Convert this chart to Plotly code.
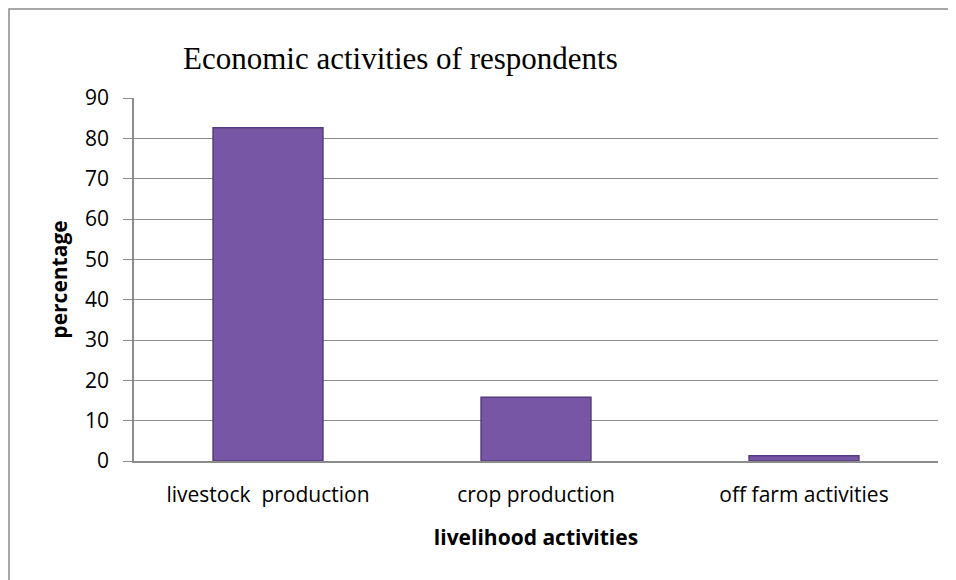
import plotly.graph_objects as go

categories = ["livestock  production", "crop production", "off farm activities"]
values = [82.6, 15.8, 1.3]
y_ticks = [0, 10, 20, 30, 40, 50, 60, 70, 80, 90]

fig = go.Figure()
fig.add_trace(go.Bar(
    x=categories, y=values,
    marker=dict(color="#7757a5", line=dict(color="#553a7c", width=1.5)),
    width=0.41,
))

# page body has an 8px margin; compensate
fig.update_layout(
    width=956, height=580,
    margin=dict(l=126, r=26, t=90, b=127),
    paper_bgcolor="white", plot_bgcolor="white",
    showlegend=False,
    title=dict(text="Economic activities of respondents",
               font=dict(family="Liberation Serif", size=31, color="black"),
               x=175/956, xanchor="left", y=1-50/580, yanchor="middle"),
    font=dict(family="Open Sans", size=21, color="black"),
)
fig.update_yaxes(
    range=[0, 90], tickvals=y_ticks, showgrid=True, gridcolor="#8c8c8c", gridwidth=1,
    showline=True, linecolor="#8c8c8c", linewidth=1.5,
    ticks="outside", ticklen=9, tickcolor="#8c8c8c", ticklabelstandoff=10,
    tickfont=dict(size=21),
    title=dict(text="<b>percentage</b>", font=dict(size=21), standoff=12),
    zeroline=False,
)
fig.update_xaxes(
    showline=True, linecolor="#8c8c8c", linewidth=1.5,
    tickfont=dict(size=21), ticks="", ticklabelstandoff=14,
    title=dict(text="<b>livelihood activities</b>", font=dict(size=21), standoff=23),
)
fig.add_shape(type="rect", xref="paper", yref="paper",
              x0=-125/804, x1=(942-126)/804, y0=-0.5, y1=1+89/363,
              line=dict(color="#8c8c8c", width=1.5), fillcolor="rgba(0,0,0,0)", layer="below")

fig.write_html("out.html")
